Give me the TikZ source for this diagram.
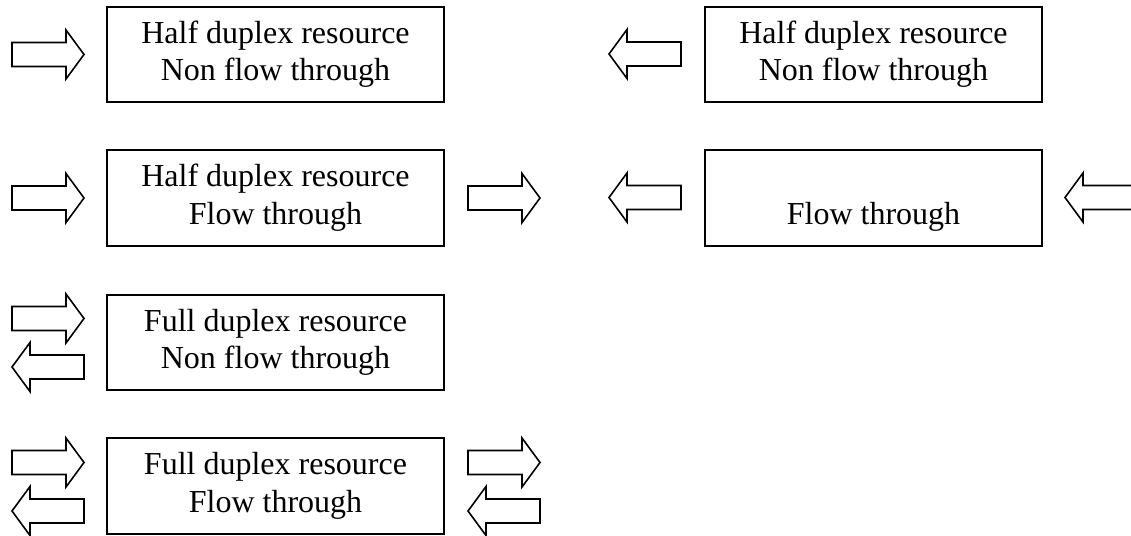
\documentclass[tikz,border=0pt]{standalone}
\usepackage{fontspec}
\setmainfont{Liberation Serif}
\newcommand\boxfont{\fontsize{32pt}{37.5pt}\selectfont}
\begin{document}
\begin{tikzpicture}[x=1pt,y=-1pt,
  resbox/.style={draw, line width=1.8pt, minimum width=337pt, minimum height=95.5pt,
                 inner sep=0pt, align=center, font=\boxfont},
  arrowline/.style={draw, line width=1.6pt, line join=miter, fill=white},
  rarr/.pic={\path[arrowline] (0,-12) -- (54,-12) -- (54,-24.5) -- (72,0) -- (54,24.5) -- (54,12) -- (0,12) -- cycle;},
  larr/.pic={\path[arrowline] (0,0) -- (18,-24.5) -- (18,-12) -- (72,-12) -- (72,12) -- (18,12) -- (18,24.5) -- cycle;}
]
\useasboundingbox (0,0) rectangle (1131,535);
\begin{scope}
\clip (0,0) rectangle (1131,535);
% boxes
\node[resbox] (b1) at (275.5,54.5) {\strut Half duplex resource\\\strut Non flow through};
\node[resbox] (b2) at (275.5,198) {\strut Half duplex resource\\\strut Flow through};
\node[resbox] (b3) at (275.5,342.5) {\strut Full duplex resource\\\strut Non flow through};
\node[resbox] (b4) at (275.5,486) {\strut Full duplex resource\\\strut Flow through};
\node[resbox] (b5) at (873.5,54.5) {\strut Half duplex resource\\\strut Non flow through};
\node[resbox] (b6) at (873.5,198) {\strut\\\strut Flow through};
% arrows, left column
\pic (a1) at (12,54.5) {rarr};
\pic (a2) at (12,198) {rarr};
\pic (a3) at (468,198) {rarr};
\pic (a4) at (12,318.5) {rarr};
\pic (a5) at (12,367) {larr};
\pic (a6) at (12,462.5) {rarr};
\pic (a7) at (12,511) {larr};
\pic (a8) at (468,462.5) {rarr};
\pic (a9) at (468,511) {larr};
% arrows, right column
\pic (a10) at (609,54) {larr};
\pic (a11) at (609,197.5) {larr};
\pic (a12) at (1065,197.5) {larr};
\end{scope}
\end{tikzpicture}
\end{document}
